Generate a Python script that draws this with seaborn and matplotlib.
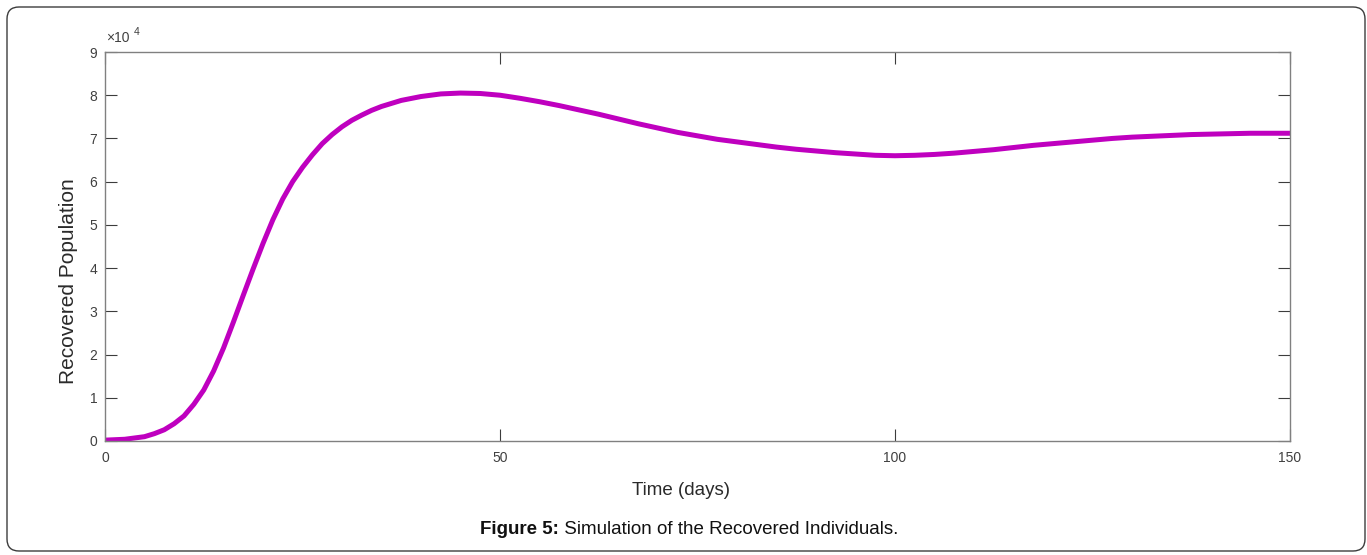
import matplotlib.pyplot as plt
import pandas as pd
import seaborn as sns
from matplotlib.patches import FancyBboxPatch

# values, recovered population in units of 10^4
days = [0, 2.5, 5, 6.25, 7.5, 8.75, 10, 11.25, 12.5, 13.75,
        15, 16.25, 17.5, 18.75, 20, 21.25, 22.5, 23.75, 25, 26.25,
        27.5, 28.75, 30, 31.25, 32.5, 33.75, 35, 37.5, 40, 42.5, 45, 47.5,
        50, 52.5, 55, 57.5, 60, 62.5, 65, 67.5, 70, 72.5,
        75, 77.5, 80, 82.5, 85, 87.5, 90, 92.5, 95, 97.5,
        100, 102.5, 105, 107.5, 110, 112.5, 115, 117.5, 120, 122.5,
        125, 127.5, 130, 132.5, 135, 137.5, 140, 142.5, 145, 147.5, 150]
recovered = [0.02, 0.04, 0.10, 0.17, 0.26, 0.40, 0.58, 0.85, 1.18, 1.62,
             2.15, 2.75, 3.37, 3.98, 4.57, 5.12, 5.60, 6.00, 6.33, 6.62,
             6.88, 7.09, 7.27, 7.42, 7.54, 7.65, 7.74, 7.88, 7.97, 8.03, 8.05, 8.04,
             8.00, 7.93, 7.85, 7.76, 7.66, 7.56, 7.45, 7.34, 7.24, 7.14,
             7.06, 6.98, 6.92, 6.86, 6.80, 6.75, 6.71, 6.67, 6.64, 6.61,
             6.60, 6.61, 6.63, 6.66, 6.70, 6.74, 6.79, 6.84, 6.88, 6.92,
             6.96, 7.00, 7.03, 7.05, 7.07, 7.09, 7.10, 7.11, 7.12, 7.12, 7.12]
x_ticks = [0, 50, 100, 150]
y_ticks = [0, 1, 2, 3, 4, 5, 6, 7, 8, 9]
scale = 1e4

x_label = "Time (days)"
y_label = "Recovered Population"
caption_bold = "Figure 5:"
caption_rest = " Simulation of the Recovered Individuals."

sns.set_theme(style="white")
narrow = ["Liberation Sans Narrow", "Liberation Sans", "DejaVu Sans"]
regular = ["Liberation Sans", "DejaVu Sans"]
plt.rcParams["font.family"] = narrow

df = pd.DataFrame({x_label: days, y_label: [v * scale for v in recovered]})

fig = plt.figure(figsize=(13.67, 5.55), dpi=100)

# pixel-space overlay for the page frame and caption
page = fig.add_axes([0, 0, 1, 1])
page.set_xlim(0, 1367)
page.set_ylim(555, 0)
page.axis("off")
page.add_patch(FancyBboxPatch((7, 7), 1358, 544,
                              boxstyle="round,pad=0,rounding_size=12",
                              fill=False, edgecolor="#3c3c3c", linewidth=1.0))

ax = fig.add_axes([105 / 1367, 114 / 555, 1185 / 1367, 389 / 555])
sns.lineplot(data=df, x=x_label, y=y_label, ax=ax, color="#BF00BF",
             linewidth=3.6, solid_joinstyle="round", solid_capstyle="butt")

ax.set_xlim(0, 150)
ax.set_ylim(0, 9 * scale)
ax.set_xticks(x_ticks)
ax.set_yticks([t * scale for t in y_ticks])
ax.set_yticklabels([str(t) for t in y_ticks])
ax.tick_params(axis="both", direction="in", length=8.6, width=0.8,
               color="#3c3c3c", top=True, right=True, bottom=True, left=True,
               labelsize=10, labelcolor="#404040")
ax.tick_params(axis="x", pad=7)
ax.tick_params(axis="y", pad=5.5)
for spine in ax.spines.values():
    spine.set_color("#808080")
    spine.set_linewidth(1.0)

ax.set_xlabel(x_label, fontsize=13.5, color="#2a2a2a")
ax.xaxis.label.set_verticalalignment("center")
ax.xaxis.set_label_coords(0.486, -0.1285)
ax.set_ylabel(y_label, fontsize=15, color="#2a2a2a", family=regular)
ax.yaxis.label.set_verticalalignment("center")
ax.yaxis.set_label_coords(-0.031, 0.41)

# MATLAB-style exponent above the y axis
page.text(106, 42, "×10", fontsize=10, color="#404040", ha="left", va="baseline")
page.text(134, 35, "4", fontsize=7.5, color="#404040", ha="left", va="baseline")

# caption
renderer = fig.canvas.get_renderer()
head = page.text(480, 530, caption_bold, fontsize=13.5, fontweight="bold",
                 family=regular, color="#111111", ha="left", va="center")
box = head.get_window_extent(renderer=renderer)
x_end = page.transData.inverted().transform((box.x1, box.y0))[0]
page.text(x_end, 530, caption_rest, fontsize=13.5, family=regular,
          color="#111111", ha="left", va="center")

fig.savefig("out.png", dpi=100)
